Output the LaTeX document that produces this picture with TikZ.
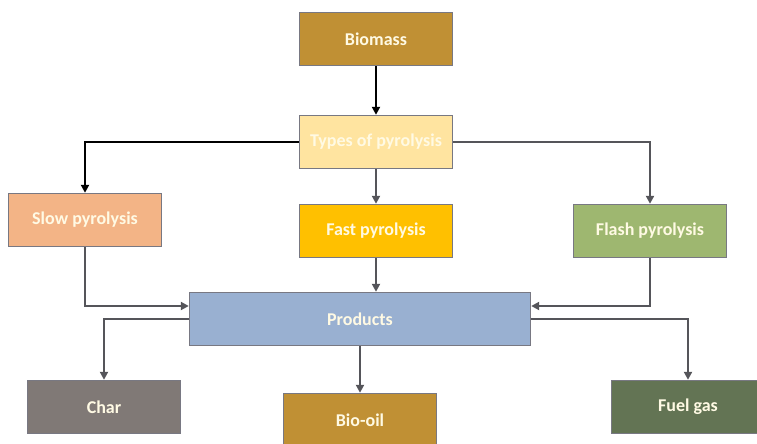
\documentclass[tikz,border=0pt]{standalone}
\usepackage{fontspec}
\setmainfont{Carlito}
\usetikzlibrary{arrows.meta}

\definecolor{biobrown}{RGB}{192,144,52}
\definecolor{typespeach}{RGB}{255,228,160}
\definecolor{slowsalmon}{RGB}{243,180,134}
\definecolor{fastgold}{RGB}{255,192,0}
\definecolor{flashgreen}{RGB}{158,183,112}
\definecolor{prodblue}{RGB}{153,176,209}
\definecolor{chargrey}{RGB}{128,121,118}
\definecolor{gasgreen}{RGB}{99,116,84}
\definecolor{boxline}{RGB}{120,120,130}
\definecolor{arrowgrey}{RGB}{85,85,90}
\definecolor{labelcream}{RGB}{255,250,228}

\begin{document}
\begin{tikzpicture}[x=0.75pt,y=-0.75pt]
\tikzset{stage/.style = {shape=rectangle,draw=boxline,line width=0.8pt,
  minimum width=115pt,minimum height=40pt,text=labelcream,
  font=\bfseries\fontsize{13.5}{16}\selectfont}}
\tikzset{edge/.style = {-{Triangle[length=6pt,width=6pt]},line width=1.7pt,draw=arrowgrey}}
\useasboundingbox (0,0) rectangle (757,443);
\clip (0,0) rectangle (757,443);
% boxes
\node[stage,fill=biobrown] (biomass) at (376,39) {Biomass};
\node[stage,fill=typespeach] (types) at (376,142) {Types of pyrolysis};
\node[stage,fill=slowsalmon] (slow) at (85,220) {Slow pyrolysis};
\node[stage,fill=fastgold] (fast) at (376,231) {Fast pyrolysis};
\node[stage,fill=flashgreen] (flash) at (650,231) {Flash pyrolysis};
\node[stage,fill=prodblue,minimum width=256pt] (products) at (360,319) {Products};
\node[stage,fill=chargrey] (char) at (104,407) {Char};
\node[stage,fill=biobrown] (biooil) at (360,420) {Bio-oil};
\node[stage,fill=gasgreen] (fuelgas) at (688,407) {Fuel gas};
% arrows
\draw[edge,draw=black] (biomass) -- (types);
\draw[edge,draw=black] (types) -| (slow);
\draw[edge] (types) -- (fast);
\draw[edge] (types) -| (flash);
\draw[edge] (slow) |- ([yshift=9.75pt]products.west);
\draw[edge] (fast) -- (fast |- products.north);
\draw[edge] (flash) |- ([yshift=9.75pt]products.east);
\draw[edge] (products) -| (char);
\draw[edge] (products) -- (biooil);
\draw[edge] (products) -| (fuelgas);
\end{tikzpicture}
\end{document}
